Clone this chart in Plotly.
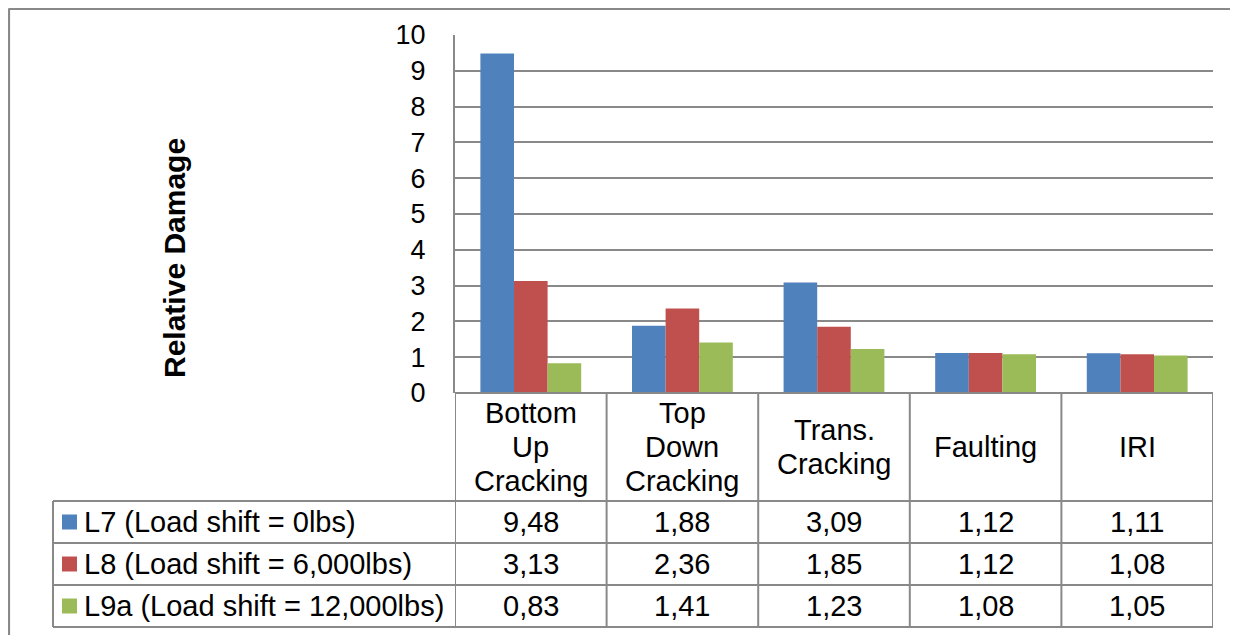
import plotly.graph_objects as go

categories = ["Bottom Up Cracking", "Top Down Cracking", "Trans. Cracking", "Faulting", "IRI"]
header_labels = ["Bottom<br>Up<br>Cracking", "Top<br>Down<br>Cracking", "Trans.<br>Cracking", "Faulting", "IRI"]
series_names = ["L7 (Load shift = 0lbs)", "L8 (Load shift = 6,000lbs)", "L9a (Load shift = 12,000lbs)"]
l7 = [9.48, 1.88, 3.09, 1.12, 1.11]
l8 = [3.13, 2.36, 1.85, 1.12, 1.08]
l9a = [0.83, 1.41, 1.23, 1.08, 1.05]
colors = ["#4F81BD", "#C0504D", "#9BBB59"]
y_ticks = list(range(0, 11))

series_values = [l7, l8, l9a]
FONT = "Liberation Sans, Arial, sans-serif"
LINE = "#898989"

OFF = 8  # page body margin
W, H = 1238 - OFF, 635 - OFF
PL, PR, PT, PB = 455 - OFF, 1213 - OFF, 35 - OFF, 393 - OFF  # plot area in figure pixels


def py(p):
    # p in screenshot pixels
    return (PB - (p - OFF)) / (PB - PT)


def px(p):
    return ((p - OFF) - PL) / (PR - PL)


fig = go.Figure()
for name, vals, col in zip(series_names, series_values, colors):
    fig.add_trace(go.Bar(x=list(range(len(categories))), y=vals, name=name,
                         marker=dict(color=col, line=dict(width=0)), showlegend=False))

shapes = []
annotations = []

row_edges = [501, 543, 585, 627]
header_top = 393
n = len(categories)
TS = 29

# horizontal lines
shapes.append(dict(type="line", xref="x", yref="paper", x0=-0.5, x1=n - 0.5,
                   y0=py(header_top), y1=py(header_top), line=dict(color=LINE, width=2)))
for r in row_edges:
    shapes.append(dict(type="line", xref="paper", yref="paper", x0=px(53), x1=1.0,
                       y0=py(r), y1=py(r), line=dict(color=LINE, width=2)))
# vertical lines at category boundaries
for i in range(n + 1):
    shapes.append(dict(type="line", xref="x", yref="paper", x0=i - 0.5, x1=i - 0.5,
                       y0=py(header_top), y1=py(row_edges[-1]), line=dict(color=LINE, width=2)))
shapes.append(dict(type="line", xref="paper", yref="paper", x0=px(53), x1=px(53),
                   y0=py(row_edges[0]), y1=py(row_edges[-1]), line=dict(color=LINE, width=2)))
# outer border (top and left edges)
shapes.append(dict(type="line", xref="paper", yref="paper", x0=px(8.6), x1=px(1260),
                   y0=py(8.6), y1=py(8.6), line=dict(color=LINE, width=3)))
shapes.append(dict(type="line", xref="paper", yref="paper", x0=px(8.6), x1=px(8.6),
                   y0=py(8.6), y1=py(680), line=dict(color=LINE, width=3)))

# header labels, one annotation per line
header_center = 447
line_step = 34
for i, lab in enumerate(header_labels):
    parts = lab.split("<br>")
    k = len(parts)
    for j, part in enumerate(parts):
        yc = header_center + (j - (k - 1) / 2) * line_step
        annotations.append(dict(x=i, y=py(yc), xref="x", yref="paper",
                                text=part, showarrow=False,
                                font=dict(size=TS, color="black", family=FONT),
                                xanchor="center", yanchor="middle"))

# values and legend keys
for s, (name, vals, col) in enumerate(zip(series_names, series_values, colors)):
    yc = (row_edges[s] + row_edges[s + 1]) / 2
    for i, v in enumerate(vals):
        annotations.append(dict(x=i, y=py(yc), xref="x", yref="paper",
                                text=f"{v:.2f}".replace(".", ","), showarrow=False,
                                font=dict(size=TS, color="black", family=FONT),
                                xanchor="center", yanchor="middle"))
    shapes.append(dict(type="rect", xref="paper", yref="paper", x0=px(62), x1=px(77),
                       y0=py(yc + 7.5), y1=py(yc - 7.5), fillcolor=col, line=dict(width=0)))
    annotations.append(dict(x=px(82), y=py(yc), xref="paper", yref="paper", text=name,
                            showarrow=False, font=dict(size=TS, color="black", family=FONT),
                            xanchor="left", yanchor="middle"))

# y-axis title
annotations.append(dict(x=px(174), y=py(258), xref="paper", yref="paper",
                        text="<b>Relative Damage</b>", textangle=-90, showarrow=False,
                        font=dict(size=30, color="black", family=FONT),
                        xanchor="center", yanchor="middle"))

fig.update_layout(
    width=W, height=H,
    margin=dict(l=PL, r=W - PR, t=PT, b=H - PB, pad=0),
    paper_bgcolor="white", plot_bgcolor="white",
    barmode="group", bargap=0.335, bargroupgap=0,
    shapes=shapes, annotations=annotations,
    font=dict(family=FONT, color="black"),
    xaxis=dict(range=[-0.5, n - 0.5], showticklabels=False, showgrid=False,
               zeroline=False, showline=False, ticks=""),
    yaxis=dict(range=[0, 10], tickvals=y_ticks, ticktext=[str(t) for t in y_ticks],
               showgrid=True, gridcolor=LINE, gridwidth=2, zeroline=False,
               showline=True, linecolor=LINE, linewidth=2, ticks="",
               ticklabelstandoff=22, tickfont=dict(size=27, color="black", family=FONT)),
)

fig.write_html("out.html")
